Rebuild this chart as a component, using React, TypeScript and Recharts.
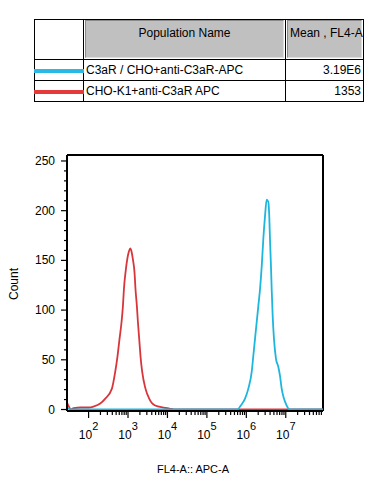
import React from 'react';
import { LineChart, Line, XAxis, YAxis, ReferenceLine } from 'recharts';

// x values are log10(FL4-A) — axis labelled 10^n
const redLog = [1.453, 1.5, 1.55, 1.62, 1.8, 2.0, 2.127, 2.296, 2.423, 2.592, 2.676, 2.735, 2.785, 2.836, 2.871, 2.896, 2.937, 2.98, 3.022, 3.056, 3.089, 3.124, 3.165, 3.19, 3.225, 3.251, 3.284, 3.316, 3.359, 3.443, 3.537, 3.689, 3.899, 4.05, 4.2, 5.0, 5.84, 7.06, 7.944];
const redCount = [7, 3, 0, 1.5, 2, 2, 3, 6, 11, 21, 38, 54, 71, 88, 104, 121, 138, 151, 159, 162, 159, 151, 138, 121, 104, 88, 71, 54, 38, 21, 11, 4, 2, 1, 0, 0, 0, 0, 0];

const blueLog = [1.453, 1.49, 1.53, 1.6, 5.78, 5.841, 5.967, 6.051, 6.137, 6.177, 6.22, 6.263, 6.304, 6.347, 6.39, 6.43, 6.473, 6.516, 6.557, 6.582, 6.6, 6.625, 6.643, 6.668, 6.701, 6.752, 6.81, 6.853, 6.896, 6.954, 7.023, 7.063, 7.1, 7.944];
const blueCount = [2, 1, 0, 0, 0, 3, 11, 21, 38, 54, 71, 88, 104, 121, 144, 171, 194, 211, 209, 194, 171, 144, 121, 94, 71, 51, 43, 34, 21, 11, 4, 1, 0, 0];

const xMin = 1.453;
const xMax = 7.944;
const yMin = -1.5;
const yMax = 256;

const majorDecades = [2, 3, 4, 5, 6, 7];
const minorMultipliers = [2, 3, 4, 5, 6, 7, 8, 9];
const yTicks = [0, 10, 20, 30, 40, 50, 60, 70, 80, 90, 100, 110, 120, 130, 140, 150, 160, 170, 180, 190, 200, 210, 220, 230, 240, 250];

const tableRows = [
  { name: 'C3aR / CHO+anti-C3aR-APC', mean: '3.19E6', color: '#2ab9e4' },
  { name: 'CHO-K1+anti-C3aR APC', mean: '1353', color: '#e53a3a' },
];

const redData = redLog.map((x, i) => ({ x, y: redCount[i] }));
const blueData = blueLog.map((x, i) => ({ x, y: blueCount[i] }));

const xTicks: number[] = [];
majorDecades.forEach((d) => {
  xTicks.push(d);
  minorMultipliers.forEach((m) => {
    const v = d + Math.log10(m);
    if (v <= xMax) xTicks.push(v);
  });
});

const FONT = '"Liberation Sans", Arial, sans-serif';

const XTick = (props: any) => {
  const { x, y, payload } = props;
  const v = payload.value;
  const major = Math.abs(v - Math.round(v)) < 1e-6;
  return (
    <g>
      <line x1={x} x2={x} y1={y} y2={y + (major ? 7 : 4)} stroke="#000" strokeWidth={1.2} />
      {major && (
        <text x={x} y={y + 28} textAnchor="middle" fontSize={12} fontFamily={FONT} fill="#000">
          <tspan>10</tspan>
          <tspan dy={-9} fontSize={11}>{Math.round(v)}</tspan>
        </text>
      )}
    </g>
  );
};

const YTick = (props: any) => {
  const { x, y, payload } = props;
  const v = payload.value;
  const major = v % 50 === 0;
  return (
    <g>
      <line x1={x - (major ? 6 : 3)} x2={x} y1={y} y2={y} stroke="#000" strokeWidth={1.2} />
      {major && (
        <text x={x - 12} y={y} dy={4} textAnchor="end" fontSize={12} fontFamily={FONT} fill="#000">
          {v}
        </text>
      )}
    </g>
  );
};

const abs = (s: React.CSSProperties): React.CSSProperties => ({ position: 'absolute', ...s });

export default function App() {
  return (
    <div style={abs({ left: 0, top: 0, width: 377, height: 490, background: '#fff', fontFamily: FONT, color: '#000', overflow: 'hidden' })}>
      <div style={abs({ left: 0, top: 0 })}>
        <LineChart width={377} height={490} margin={{ top: 155, right: 54, left: 0, bottom: 0 }}>
          <XAxis
            type="number"
            dataKey="x"
            domain={[xMin, xMax]}
            allowDataOverflow
            ticks={xTicks}
            interval={0}
            height={79}
            tickSize={0}
            tickMargin={0}
            tickLine={false}
            axisLine={{ stroke: '#000', strokeWidth: 2 }}
            tick={<XTick />}
          />
          <YAxis
            type="number"
            domain={[yMin, yMax]}
            allowDataOverflow
            ticks={yTicks}
            interval={0}
            width={67}
            tickSize={0}
            tickMargin={0}
            tickLine={false}
            axisLine={{ stroke: '#000', strokeWidth: 2 }}
            tick={<YTick />}
          />
          <ReferenceLine y={yMax} stroke="#000" strokeWidth={2} />
          <ReferenceLine x={xMax} stroke="#000" strokeWidth={2} />
          <Line data={redData} dataKey="y" type="monotone" stroke="#d9363c" strokeWidth={1.8} dot={false} isAnimationActive={false} />
          <Line data={blueData} dataKey="y" type="monotone" stroke="#1db6de" strokeWidth={1.8} dot={false} isAnimationActive={false} />
        </LineChart>
      </div>

      <div style={abs({ left: 6, top: 277, width: 16, height: 14, fontSize: 12, lineHeight: '14px', transform: 'rotate(-90deg)', transformOrigin: '50% 50%', display: 'flex', justifyContent: 'center', whiteSpace: 'nowrap' })}>
        Count
      </div>
      <div style={abs({ left: 133, top: 462, width: 120, textAlign: 'center', fontSize: 11, lineHeight: '14px', whiteSpace: 'nowrap' })}>
        FL4-A:: APC-A
      </div>

      {/* table */}
      <div style={abs({ left: 34, top: 19, width: 330, height: 83, border: '1px solid #000', boxSizing: 'border-box' })} />
      <div style={abs({ left: 83, top: 19, width: 1, height: 83, background: '#000' })} />
      <div style={abs({ left: 285, top: 19, width: 1, height: 83, background: '#000' })} />
      <div style={abs({ left: 34, top: 59, width: 330, height: 1, background: '#000' })} />
      <div style={abs({ left: 34, top: 80, width: 330, height: 1, background: '#000' })} />

      <div style={abs({ left: 85, top: 20, width: 199, height: 38, background: '#c0c0c0', borderTop: '1px solid #8a8a8a', borderLeft: '1px solid #8a8a8a', borderBottom: '1px solid #dcdcdc', borderRight: '1px solid #dcdcdc', boxSizing: 'border-box' })} />
      <div style={abs({ left: 287, top: 20, width: 75, height: 38, background: '#c0c0c0', borderTop: '1px solid #8a8a8a', borderLeft: '1px solid #8a8a8a', borderBottom: '1px solid #dcdcdc', borderRight: '1px solid #dcdcdc', boxSizing: 'border-box' })} />

      <div style={abs({ left: 85, top: 26, width: 199, textAlign: 'center', fontSize: 12, lineHeight: '14px', whiteSpace: 'nowrap' })}>
        Population Name
      </div>
      <div style={abs({ left: 290, top: 26, width: 73, fontSize: 12, lineHeight: '14px', whiteSpace: 'nowrap', overflow: 'hidden' })}>
        Mean , FL4-A
      </div>

      {tableRows.map((r, i) => {
        const top = i === 0 ? 63 : 84;
        const lineTop = i === 0 ? 69 : 89.5;
        return (
          <React.Fragment key={r.name}>
            <div style={abs({ left: 34, top: lineTop, width: 50, height: 4, background: r.color })} />
            <div style={abs({ left: 86, top, fontSize: 12, lineHeight: '14px', whiteSpace: 'nowrap' })}>{r.name}</div>
            <div style={abs({ left: 288, top, width: 73, textAlign: 'right', fontSize: 12, lineHeight: '14px', whiteSpace: 'nowrap' })}>{r.mean}</div>
          </React.Fragment>
        );
      })}
    </div>
  );
}
